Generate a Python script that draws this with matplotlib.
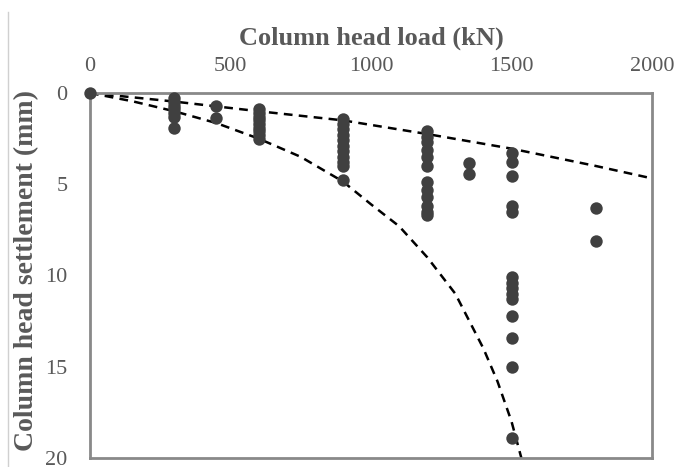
import numpy as np
import matplotlib
matplotlib.use("Agg")
import matplotlib.pyplot as plt
from matplotlib.lines import Line2D

# Datos medidos: carga en cabeza de columna (kN) y asiento (mm)
load_300 = [0.3, 0.5, 0.7, 0.9, 1.1, 1.3, 1.9]
load_450 = [0.7, 1.35]
load_600 = [0.9, 1.1, 1.3, 1.5, 1.7, 1.9, 2.1, 2.3, 2.5]
load_900 = [1.45, 1.7, 2.0, 2.3, 2.6, 2.9, 3.2, 3.5, 3.8, 4.0, 4.75]
load_1200 = [2.1, 2.4, 2.7, 3.1, 3.5, 4.0, 4.9, 5.3, 5.7, 6.2, 6.5, 6.7]
load_1350 = [3.85, 4.45]
load_1500 = [3.3, 3.8, 4.55, 6.2, 6.5, 10.1, 10.4, 10.7, 11.0, 11.3, 12.2, 13.4, 15.0, 18.9]
load_1800 = [6.3, 8.1]

groups = {0: [0.0], 300: load_300, 450: load_450, 600: load_600, 900: load_900,
          1200: load_1200, 1350: load_1350, 1500: load_1500, 1800: load_1800}

# Curvas de tendencia
upper_P = [0, 300, 600, 900, 1200, 1500, 1800, 2000]
upper_s = [0, 0.47, 1.0, 1.5, 2.25, 3.05, 4.0, 4.68]
lower_P = [0, 150, 300, 450, 600, 750, 900, 1000, 1100, 1200, 1300, 1400, 1450, 1500, 1535]
lower_s = [0, 0.45, 1.0, 1.65, 2.5, 3.5, 4.85, 6.1, 7.3, 9.0, 11.0, 14.0, 15.8, 18.0, 20.0]

plt.rcParams['font.family'] = ['Liberation Serif', 'DejaVu Serif']
grey_txt = "#595959"
spine_col = "#898989"

fig = plt.figure(figsize=(6.78, 4.67), dpi=100)
ax = fig.add_axes([0.1327, 0.0193, 0.829, 0.7816])

ax.plot(upper_P, upper_s, "--", color="black", lw=1.8, dashes=(3.5, 2.5), zorder=2)
ax.plot(lower_P, lower_s, "--", color="black", lw=1.8, dashes=(3.5, 2.5), zorder=2)

xs, ys = [], []
for p, vals in groups.items():
    xs += [p] * len(vals)
    ys += vals
ax.scatter(xs, ys, s=80, color="#404040", zorder=3, clip_on=False, linewidths=0)

ax.set_xlim(0, 2000)
ax.set_ylim(20, 0)
ax.set_xticks([0, 500, 1000, 1500, 2000])
ax.set_yticks([0, 5, 10, 15, 20])
ax.xaxis.tick_top()
ax.xaxis.set_label_position("top")
ax.tick_params(length=0, labelsize=16, colors=grey_txt, pad=12)
ax.tick_params(axis="y", pad=16)
for sp in ax.spines.values():
    sp.set_color(spine_col)
    sp.set_linewidth(2)

ax.set_xlabel("Column head load (kN)", fontsize=19, fontweight="bold", color=grey_txt, labelpad=9)
ax.set_ylabel("Column head settlement (mm)", fontsize=20, fontweight="bold", color=grey_txt)
ax.yaxis.set_label_coords(-0.09, 0.515)

# Linea de borde gris claro a la izquierda
fig.add_artist(Line2D([0.012, 0.012], [0.0, 0.975], color="#d0d0d0", lw=1))

fig.savefig("out.png", dpi=100)
